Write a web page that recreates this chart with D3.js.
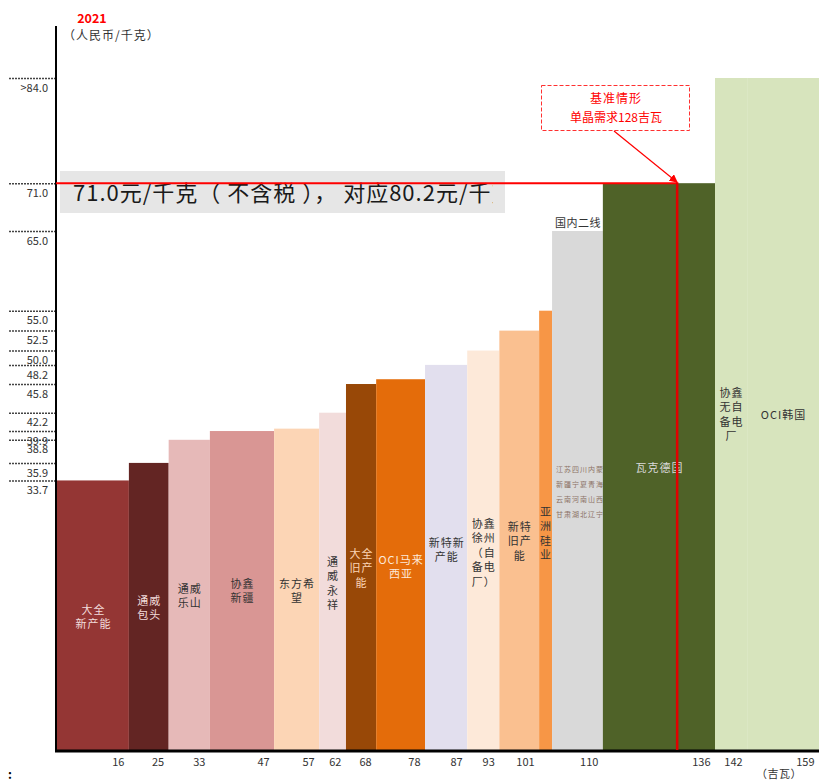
<!DOCTYPE html>
<html>
<head>
<meta charset="utf-8">
<script src="https://cdn.jsdelivr.net/npm/d3@7"></script>
<style>
  body { margin: 0; background: #fff; }
  svg { display: block; }
  text { font-family: "Noto Sans CJK SC", "Noto Sans", sans-serif; }
</style>
</head>
<body>
<div id="chart"></div>
<script>
/********************* Data *********************/
const names = ["大全新产能", "通威包头", "通威乐山", "协鑫新疆", "东方希望", "通威永祥", "大全旧产能",
  "OCI马来西亚", "新特新产能", "协鑫徐州（自备电厂）", "新特旧产能", "亚洲硅业", "国内二线",
  "瓦克德国", "协鑫无自备电厂", "OCI韩国"];
// capacity (GW) as the bar widths are drawn
const capacityGW = [15.0, 8.3, 8.6, 13.4, 9.4, 5.6, 6.3, 10.2, 8.8, 6.7, 8.3, 2.7, 10.6, 23.4, 6.7, 15.0];
// cash cost (RMB/kg)
const costRMB = [33.7, 35.9, 38.8, 39.9, 40.2, 42.2, 45.8, 46.4, 48.2, 50.0, 52.5, 55.0, 65.0, 71.0, 84.2, 84.2];
const xTickLabels = ["16", "25", "33", "47", "57", "62", "68", "78", "87", "93", "101", "", "110", "136", "142", "159"];
const yTickValues = [84.2, 71.0, 65.0, 55.0, 52.5, 50.0, 48.2, 45.8, 42.2, 39.9, 38.8, 35.9, 33.7];
const yTickLabels = [">84.0", "71.0", "65.0", "55.0", "52.5", "50.0", "48.2", "45.8", "42.2", "39.9", "38.8", "35.9", "33.7"];
const barLabels = [["大全", "新产能"], ["通威", "包头"], ["通威", "乐山"], ["协鑫", "新疆"], ["东方希", "望"],
  ["通", "威", "永", "祥"], ["大全", "旧产", "能"], ["OCI马来", "西亚"], ["新特新", "产能"],
  ["协鑫", "徐州", "（自", "备电", "厂）"], ["新特", "旧产", "能"], ["亚", "洲", "硅", "业"], [],
  ["瓦克德国"], ["协鑫", "无自", "备电", "厂"], ["OCI韩国"]];
const demandGW = 129.4; // 单晶需求 (drawn position)
const priceLine = 71.0;

/********************* Styles *********************/
const colors = ["#943634", "#632523", "#e6b9b8", "#d99694", "#fcd5b5", "#f2dcdb", "#984807", "#e46c0a",
  "#e2dfee", "#fde9d9", "#fac090", "#f79646", "#d9d9d9", "#4f6228", "#d7e4bd", "#d7e4bd"];
const labelFill = ["#f2dcdb", "#f2dcdb", "#333", "#333", "#333", "#333", "#fcd5b5", "#fde9d9",
  "#333", "#333", "#333", "#333", "#333", "#d9d9d9", "#333", "#333"];
const labelTop = [610, 601, 589, 584, 584, 562, 554, 560, 543, 524, 527, 512, 0, 468, 393, 415];

(() => {
  const width = 819, height = 782;
  const svg = d3.select("#chart").append("svg")
    .attr("width", width).attr("height", height)
    .attr("viewBox", `0 0 ${width} ${height}`);

  const x = d3.scaleLinear().domain([0, d3.sum(capacityGW)]).range([57, 819]);
  const y = d3.scaleLinear().domain([0, 84.2]).range([749, 78]);

  const ends = Array.from(d3.cumsum(capacityGW));
  const bars = names.map((n, i) => ({
    name: n, x0: i ? ends[i - 1] : 0, x1: ends[i], v: costRMB[i], i
  }));

  // bars
  svg.append("g").selectAll("rect").data(bars).enter().append("rect")
    .attr("x", d => x(d.x0))
    .attr("y", d => y(d.v))
    .attr("width", d => x(d.x1) - x(d.x0))
    .attr("height", d => y(0) - y(d.v) + 2)
    .attr("fill", d => colors[d.i]);

  // bar labels
  const lab = svg.append("g").attr("font-size", 11).attr("letter-spacing", 1).attr("text-anchor", "middle");
  bars.forEach(d => {
    barLabels[d.i].forEach((t, k) => {
      lab.append("text")
        .attr("x", (x(d.x0) + x(d.x1)) / 2 + 0.5)
        .attr("y", labelTop[d.i] + k * 14.5)
        .attr("dy", "0.35em")
        .attr("fill", labelFill[d.i])
        .text(t);
    });
  });

  // 国内二线 label above its bar + unreadable small text inside
  const gn = bars[12];
  svg.append("text").attr("x", x(gn.x0) + 3).attr("y", y(gn.v) - 4)
    .attr("font-size", 11).attr("letter-spacing", 0.5).attr("fill", "#333").text("国内二线");
  ["江苏四川内蒙", "新疆宁夏青海", "云南河南山西", "甘肃湖北辽宁"].forEach((t, k) => {
    svg.append("text").attr("x", x(gn.x0) + 4).attr("y", 470 + k * 15)
      .attr("dy", "0.35em").attr("font-size", 7).attr("letter-spacing", 1)
      .attr("fill", "#7a5a4a").attr("opacity", 0.8).text(t);
  });

  // y axis ticks
  const yAxis = svg.append("g").attr("transform", "translate(56,0)")
    .call(d3.axisLeft(y).tickValues(yTickValues).tickSize(48).tickFormat((d, i) => yTickLabels[i]));
  yAxis.select(".domain").remove();
  yAxis.selectAll(".tick line")
    .attr("stroke", "#444").attr("stroke-width", 1.5).attr("stroke-dasharray", "2,1");
  yAxis.selectAll(".tick text")
    .attr("x", -8).attr("dy", "1.2em")
    .attr("font-family", "'Liberation Sans', Arial, sans-serif")
    .attr("font-size", 11).attr("fill", "#333");

  // x axis labels at bar ends
  const xAxis = svg.append("g").attr("transform", "translate(0,751)")
    .call(d3.axisBottom(x).tickValues(ends).tickSize(0).tickFormat((d, i) => xTickLabels[i]));
  xAxis.select(".domain").remove();
  xAxis.selectAll(".tick text")
    .attr("text-anchor", "end").attr("x", -5).attr("y", 7)
    .attr("font-family", "'Liberation Sans', Arial, sans-serif")
    .attr("font-size", 11).attr("fill", "#333");

  // axis lines
  svg.append("line").attr("x1", 56).attr("x2", 56).attr("y1", 26).attr("y2", 752)
    .attr("stroke", "#000").attr("stroke-width", 2);
  svg.append("line").attr("x1", 55).attr("x2", 819).attr("y1", 751).attr("y2", 751)
    .attr("stroke", "#000").attr("stroke-width", 3);

  // price box (text runs past the box and is cut off, as in the source)
  svg.append("clipPath").attr("id", "boxclip").append("rect")
    .attr("x", 60).attr("y", 171).attr("width", 433).attr("height", 42);
  svg.append("rect").attr("x", 60).attr("y", 171).attr("width", 445).attr("height", 42)
    .attr("fill", "#e6e6e6");
  svg.append("text").attr("clip-path", "url(#boxclip)")
    .attr("x", 73).attr("y", 201).attr("font-size", 22).attr("letter-spacing", 1)
    .attr("fill", "#1a1a1a").attr("xml:space", "preserve")
    .text("71.0元/千克（ 不含税 ）， 对应80.2元/千克");

  // demand / price lines
  svg.append("line").attr("x1", 56).attr("x2", x(demandGW)).attr("y1", y(priceLine)).attr("y2", y(priceLine))
    .attr("stroke", "#ff0000").attr("stroke-width", 2);
  svg.append("line").attr("x1", x(demandGW)).attr("x2", x(demandGW)).attr("y1", y(priceLine) - 1).attr("y2", 750)
    .attr("stroke", "#e00000").attr("stroke-width", 2.5);

  // annotation
  svg.append("defs").append("marker").attr("id", "arr")
    .attr("viewBox", "0 0 10 10").attr("refX", 9).attr("refY", 5)
    .attr("markerWidth", 7).attr("markerHeight", 7).attr("orient", "auto")
    .append("path").attr("d", "M0,0L10,5L0,10z").attr("fill", "#ff0000");
  svg.append("rect").attr("x", 541.5).attr("y", 85.5).attr("width", 148).attr("height", 45)
    .attr("fill", "none").attr("stroke", "#ff3030").attr("stroke-width", 1).attr("stroke-dasharray", "4,2");
  svg.append("text").attr("x", 616).attr("y", 103).attr("text-anchor", "middle")
    .attr("font-size", 12).attr("letter-spacing", 1).attr("fill", "#ff0000").text("基准情形");
  svg.append("text").attr("x", 616).attr("y", 122).attr("text-anchor", "middle")
    .attr("font-size", 12).attr("fill", "#ff0000").text("单晶需求128吉瓦");
  svg.append("line").attr("x1", 614).attr("y1", 131).attr("x2", x(demandGW)).attr("y2", y(priceLine) - 1)
    .attr("stroke", "#ff0000").attr("stroke-width", 1.2).attr("marker-end", "url(#arr)");

  // titles
  svg.append("text").attr("x", 92).attr("y", 23).attr("text-anchor", "middle")
    .attr("font-family", "'Liberation Sans', Arial, sans-serif")
    .attr("font-size", 12.5).attr("font-weight", "bold").attr("fill", "#ff0000").text("2021");
  svg.append("text").attr("x", 63).attr("y", 40).attr("font-size", 12).attr("letter-spacing", 1)
    .attr("fill", "#333").text("（人民币/千克）");
  svg.append("text").attr("x", 756).attr("y", 778).attr("font-size", 11).attr("letter-spacing", 0.5)
    .attr("fill", "#333").text("（吉瓦）");
  svg.append("text").attr("x", 8).attr("y", 779).attr("font-size", 12).attr("font-weight", "bold")
    .attr("fill", "#000").text(":");
})();
</script>
</body>
</html>
